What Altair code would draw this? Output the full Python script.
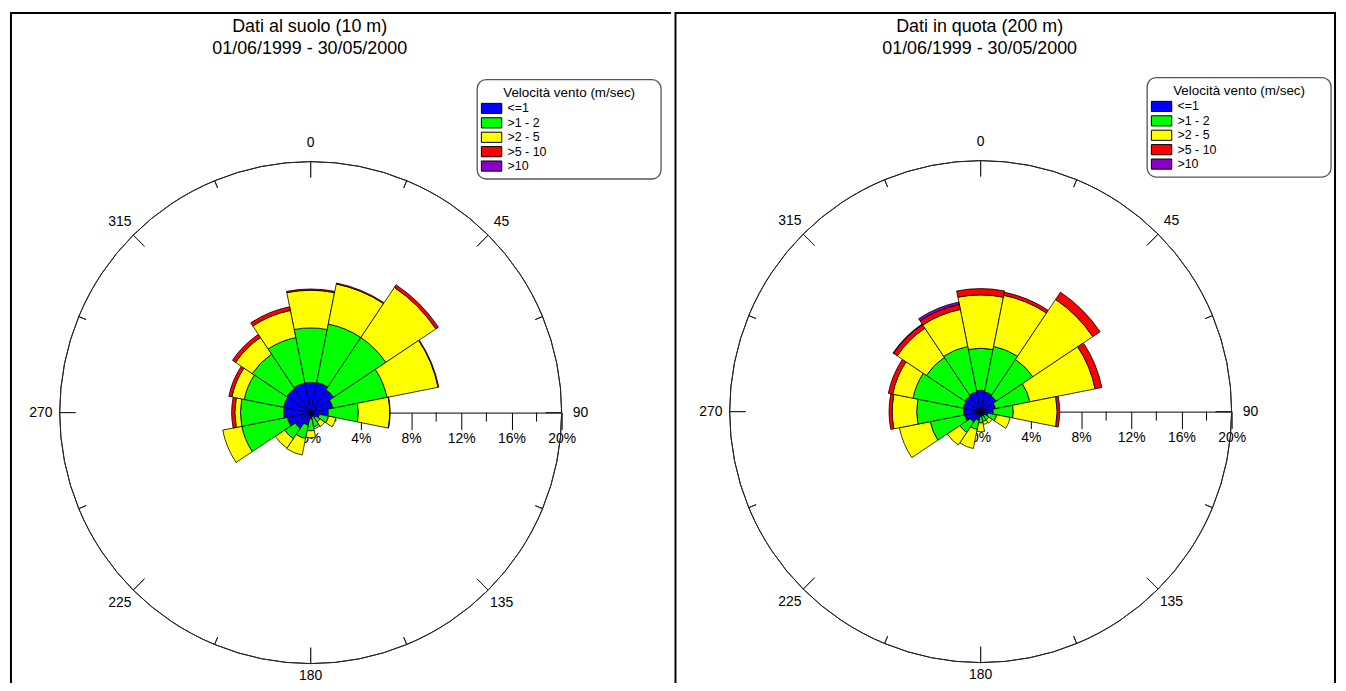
import numpy as np
import pandas as pd
import altair as alt

# ---------------- data ----------------
DIRECTIONS = [0, 22.5, 45, 67.5, 90, 112.5, 135, 157.5, 180, 202.5, 225, 247.5, 270, 292.5, 315, 337.5]
SPEED_CLASSES = ["<=1", ">1 - 2", ">2 - 5", ">5 - 10", ">10"]
CLASS_COLORS = ["#0000FF", "#00FF00", "#FFFF00", "#FF0000", "#8B00C9"]

# Dati al suolo (10 m): frequency (%) per direction, per speed class
SUOLO_LE1 = [2.40, 2.45, 2.20, 1.80, 1.40, 0.70, 0.50, 0.35, 0.50, 1.00, 1.50, 1.90, 2.15, 2.20, 2.30, 2.40]
SUOLO_1_2 = [4.35, 4.75, 5.00, 4.40, 2.40, 0.75, 0.40, 0.80, 0.95, 1.10, 1.00, 3.70, 3.45, 3.20, 3.30, 3.70]
SUOLO_2_5 = [3.00, 3.25, 4.80, 4.15, 2.50, 0.60, 0.45, 0.15, 0.55, 1.35, 0.90, 1.55, 0.45, 1.00, 1.60, 2.20]
SUOLO_5_10 = [0.10, 0.08, 0.25, 0.06, 0.03, 0.00, 0.00, 0.00, 0.00, 0.00, 0.00, 0.00, 0.25, 0.25, 0.30, 0.30]
SUOLO_GT10 = [0.00, 0.00, 0.00, 0.00, 0.00, 0.00, 0.00, 0.00, 0.00, 0.00, 0.00, 0.00, 0.00, 0.00, 0.00, 0.00]

# Dati in quota (200 m)
QUOTA_LE1 = [1.70, 1.60, 1.50, 1.20, 1.00, 0.60, 0.40, 0.35, 0.40, 0.70, 1.00, 1.30, 1.35, 1.40, 1.50, 1.60]
QUOTA_1_2 = [3.35, 3.70, 3.50, 2.80, 1.60, 0.70, 0.40, 0.45, 0.50, 0.75, 1.00, 2.80, 3.75, 4.10, 3.70, 3.70]
QUOTA_2_5 = [4.25, 4.15, 5.75, 5.30, 3.50, 1.10, 0.30, 0.25, 0.70, 1.55, 1.20, 2.50, 1.95, 1.65, 2.80, 3.00]
QUOTA_5_10 = [0.50, 0.25, 0.70, 0.55, 0.20, 0.00, 0.00, 0.00, 0.00, 0.00, 0.00, 0.00, 0.25, 0.35, 0.35, 0.40]
QUOTA_GT10 = [0.00, 0.00, 0.00, 0.00, 0.00, 0.00, 0.00, 0.00, 0.00, 0.00, 0.00, 0.00, 0.00, 0.00, 0.05, 0.20]

COMPASS_LABELS = ["0", "45", "90", "135", "180", "225", "270", "315"]
COMPASS_ANGLES = [0, 45, 90, 135, 180, 225, 270, 315]
TICK_ANGLES = DIRECTIONS
AXIS_MAJOR = [0, 4, 8, 12, 16, 20]
AXIS_MINOR = [2, 6, 10, 14, 18]
MAX_PCT = 20

TITLES_SUOLO = ["Dati al suolo (10 m)", "01/06/1999 - 30/05/2000"]
TITLES_QUOTA = ["Dati in quota (200 m)", "01/06/1999 - 30/05/2000"]
LEGEND_TITLE = "Velocità vento (m/sec)"

FONT = "Liberation Sans"
R_PX = 252.5           # pixel radius of the 20% circle
H = 675
W_PANEL = 665
LABEL_R = 271.5 / R_PX * MAX_PCT      # radial position of the compass labels
LABEL_R_BOTTOM = 264.5 / R_PX * MAX_PCT  # "180" kept inside the page


def panel(titles, classes_vals, W, cx, cy, box_top):
    theta_scale = alt.Scale(domain=[0, 360], range=[0, 2 * np.pi])
    r_scale = alt.Scale(type="linear", domain=[0, MAX_PCT], range=[0, R_PX], zero=True, nice=False)
    x_scale = alt.Scale(domain=[0, MAX_PCT], range=[cx, cx + R_PX], nice=False, zero=False)
    color_scale = alt.Scale(domain=SPEED_CLASSES, range=CLASS_COLORS)
    x_axis = alt.Axis(
        values=AXIS_MAJOR, labelExpr="datum.value + '%'", orient="bottom", offset=cy - H,
        tickSize=17, tickColor="black", tickWidth=1, domainColor="black", domainWidth=1,
        labelFontSize=14, labelFont=FONT, labelColor="black", labelPadding=2,
        labelFlush=False, labelOverlap=False, grid=False, title=None,
    )
    xc = alt.XDatum(0, type="quantitative", scale=x_scale, axis=x_axis)

    # stacked sectors (cumulative radii)
    rows = []
    for i, d in enumerate(DIRECTIONS):
        cum = 0.0
        for c, cls in enumerate(SPEED_CLASSES):
            v = classes_vals[c][i]
            if v > 0:
                rows.append(dict(a0=d - 11.25, a1=d + 11.25, r_in=cum, r_out=cum + v, cls=cls))
            cum += v
    bars = alt.Chart(pd.DataFrame(rows)).mark_arc(stroke="black", strokeWidth=0.8).encode(
        x=xc, y=alt.value(cy),
        theta=alt.Theta("a0:Q", scale=theta_scale, stack=False),
        theta2="a1:Q",
        radius=alt.Radius("r_out:Q", scale=r_scale, stack=False),
        radius2="r_in:Q",
        color=alt.Color("cls:N", scale=color_scale, legend=None),
    )

    ring = alt.Chart(pd.DataFrame({"a0": [0], "a1": [360], "r": [MAX_PCT]})).mark_arc(
        stroke="#222", strokeWidth=1, fillOpacity=0
    ).encode(
        x=xc, y=alt.value(cy),
        theta=alt.Theta("a0:Q", scale=theta_scale, stack=False), theta2="a1:Q",
        radius=alt.Radius("r:Q", scale=r_scale, stack=False), radius2="r:Q",
    )

    tick_df = pd.DataFrame({
        "ang": TICK_ANGLES,
        "r_out": [MAX_PCT] * len(TICK_ANGLES),
        "r_in": [MAX_PCT - (1.27 if a % 45 == 0 else 0.63) for a in TICK_ANGLES],
    })
    cticks = alt.Chart(tick_df).mark_arc(stroke="#222", strokeWidth=1, fillOpacity=0).encode(
        x=xc, y=alt.value(cy),
        theta=alt.Theta("ang:Q", scale=theta_scale, stack=False), theta2="ang:Q",
        radius=alt.Radius("r_out:Q", scale=r_scale, stack=False), radius2="r_in:Q",
    )

    lab_df = pd.DataFrame({
        "ang": COMPASS_ANGLES,
        "lab": COMPASS_LABELS,
        "rl": [LABEL_R_BOTTOM if a == 180 else LABEL_R for a in COMPASS_ANGLES],
    })
    clabels = alt.Chart(lab_df).mark_text(font=FONT, fontSize=14, color="black", align="center", baseline="middle").encode(
        x=xc, y=alt.value(cy),
        theta=alt.Theta("ang:Q", scale=theta_scale, stack=False),
        radius=alt.Radius("rl:Q", scale=r_scale),
        text="lab:N",
    )

    minor = alt.Chart(pd.DataFrame({"v": AXIS_MINOR})).mark_rule(color="black", strokeWidth=1).encode(
        x=alt.X("v:Q", scale=x_scale, axis=x_axis), y=alt.value(cy), y2=alt.value(cy + 9)
    )

    one = pd.DataFrame({"t": [titles[0]]})
    two = pd.DataFrame({"t": [titles[1]]})
    t1 = alt.Chart(one).mark_text(font=FONT, fontSize=18, color="black", align="center", baseline="alphabetic").encode(
        x=alt.value(cx - 1), y=alt.value(20), text="t:N")
    t2 = alt.Chart(two).mark_text(font=FONT, fontSize=18, color="black", align="center", baseline="alphabetic").encode(
        x=alt.value(cx - 1), y=alt.value(42), text="t:N")

    dummy = pd.DataFrame({"k": [0]})
    bx0, bx1 = cx + 167.5, cx + 352.5
    box = alt.Chart(dummy).mark_rect(cornerRadius=9, fill="white", stroke="#555", strokeWidth=1.3).encode(
        x=alt.value(bx0), x2=alt.value(bx1), y=alt.value(box_top), y2=alt.value(box_top + 100))
    ltitle = alt.Chart(pd.DataFrame({"t": [LEGEND_TITLE]})).mark_text(
        font=FONT, fontSize=13.5, color="black", align="center", baseline="middle").encode(
        x=alt.value((bx0 + bx1) / 2), y=alt.value(box_top + 13), text="t:N")
    leg_y = alt.Y("cls:N", scale=alt.Scale(type="point", domain=SPEED_CLASSES,
                                            range=[box_top + 29, box_top + 87], padding=0), axis=None)
    leg_df = pd.DataFrame({"cls": SPEED_CLASSES})
    swatch = alt.Chart(leg_df).mark_point(
        shape="M-1,-0.5H1V0.5H-1Z", size=420, filled=True, opacity=1, stroke="black", strokeWidth=1
    ).encode(x=alt.value(cx + 182), y=leg_y, color=alt.Color("cls:N", scale=color_scale, legend=None))
    llabels = alt.Chart(leg_df).mark_text(font=FONT, fontSize=12.5, color="black", align="left", baseline="middle").encode(
        x=alt.value(cx + 198), y=leg_y, text="cls:N")

    return alt.layer(ring, cticks, clabels, minor, bars, t1, t2, box, ltitle, swatch, llabels).properties(
        width=W, height=H)


left = panel(TITLES_SUOLO, [SUOLO_LE1, SUOLO_1_2, SUOLO_2_5, SUOLO_5_10, SUOLO_GT10],
             W=W_PANEL, cx=302.5, cy=403, box_top=68)
right = panel(TITLES_QUOTA, [QUOTA_LE1, QUOTA_1_2, QUOTA_2_5, QUOTA_5_10, QUOTA_GT10],
              W=W_PANEL, cx=307.5, cy=402, box_top=66)

# panel frames
d0 = pd.DataFrame({"k": [0]})
left_frame = alt.layer(
    alt.Chart(d0).mark_rule(color="black", strokeWidth=2).encode(x=alt.value(1), y=alt.value(0), y2=alt.value(H)),
    alt.Chart(d0).mark_rule(color="black", strokeWidth=2).encode(x=alt.value(0), x2=alt.value(W_PANEL), y=alt.value(1)),
)
right_frame = alt.layer(
    alt.Chart(d0).mark_rule(color="black", strokeWidth=2).encode(x=alt.value(0.5), y=alt.value(0), y2=alt.value(H)),
    alt.Chart(d0).mark_rule(color="black", strokeWidth=2).encode(x=alt.value(W_PANEL - 1), y=alt.value(0), y2=alt.value(H)),
    alt.Chart(d0).mark_rule(color="black", strokeWidth=2).encode(x=alt.value(0), x2=alt.value(W_PANEL), y=alt.value(1)),
)
left = alt.layer(left, left_frame)
right = alt.layer(right, right_frame)

chart = alt.hconcat(left, right, spacing=0).resolve_scale(
    x="independent", y="independent", theta="independent", radius="independent"
).resolve_axis(x="independent", y="independent").properties(padding=0, background="white").configure_view(
    stroke="transparent"
)

chart.save("out.html", embed_options={"renderer": "svg", "actions": False})
